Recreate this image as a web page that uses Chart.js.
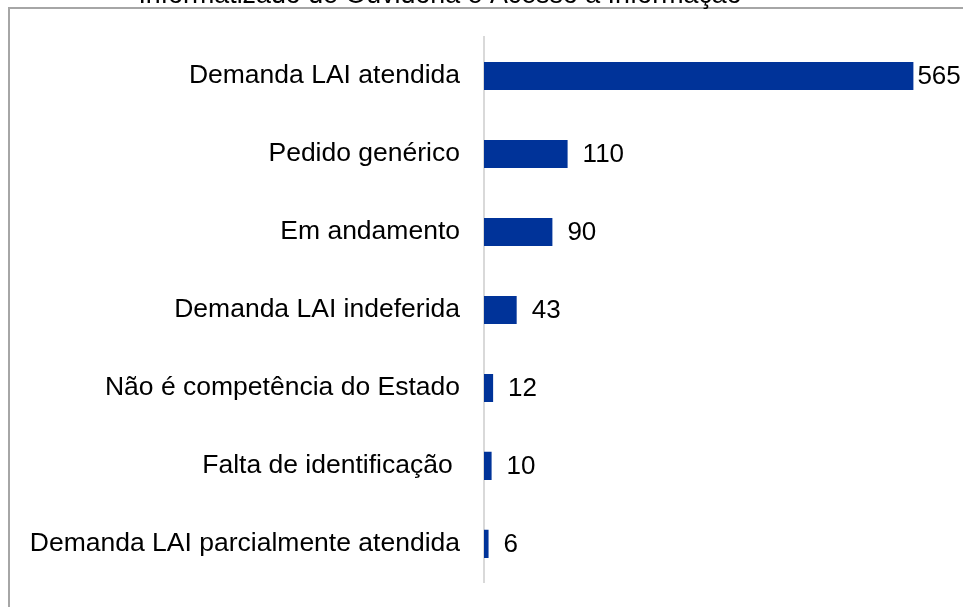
<!DOCTYPE html>
<html>
<head>
<meta charset="utf-8">
<script src="https://cdn.jsdelivr.net/npm/chart.js@4/dist/chart.umd.min.js"></script>
<style>
  html, body { margin: 0; padding: 0; background: #fff; }
  #wrap { width: 963px; height: 607px; position: relative; }
</style>
</head>
<body>
<div id="wrap"><canvas id="chart" width="963" height="607"></canvas></div>
<script>
const categories = [
    'Demanda LAI atendida',
    'Pedido genérico',
    'Em andamento',
    'Demanda LAI indeferida',
    'Não é competência do Estado',
    'Falta de identificação ',
    'Demanda LAI parcialmente atendida'
];
const values = [565, 110, 90, 43, 12, 10, 6];
const titleText = 'Informatizado de Ouvidoria e Acesso à Informação';

const FONT = 'Arial, "Liberation Sans"';

// frame + clipped title, like the original cropped screenshot
const framePlugin = {
    id: 'frame',
    afterDraw(chart) {
        const ctx = chart.ctx;
        ctx.save();
        ctx.strokeStyle = '#a6a6a6';
        ctx.lineWidth = 2;
        ctx.beginPath();
        ctx.moveTo(963, 8);
        ctx.lineTo(9, 8);
        ctx.lineTo(9, 607);
        ctx.stroke();
        ctx.fillStyle = '#000';
        ctx.font = '26.8px ' + FONT;
        ctx.textAlign = 'center';
        ctx.textBaseline = 'alphabetic';
        ctx.fillText(titleText, 440, 3);
        ctx.restore();
    }
};

// value labels at the end of each bar
const valueLabels = {
    id: 'valueLabels',
    afterDatasetsDraw(chart) {
        const ctx = chart.ctx;
        const meta = chart.getDatasetMeta(0);
        ctx.save();
        ctx.fillStyle = '#000';
        ctx.font = '26px ' + FONT;
        ctx.textBaseline = 'middle';
        ctx.textAlign = 'left';
        meta.data.forEach((bar, i) => {
            const txt = String(values[i]);
            const w = ctx.measureText(txt).width;
            let x = bar.x + 15;
            if (x + w > chart.width - 2) x = bar.x + 4;
            ctx.fillText(txt, x, bar.y + 1);
        });
        ctx.restore();
    }
};

new Chart(document.getElementById('chart'), {
    type: 'bar',
    data: {
        labels: categories,
        datasets: [{
            data: values,
            backgroundColor: '#003399',
            borderWidth: 0,
            barPercentage: 0.72,
            categoryPercentage: 0.5
        }]
    },
    options: {
        indexAxis: 'y',
        responsive: false,
        animation: false,
        layout: {
            padding: { top: 37, bottom: 20, left: 0, right: 23 }
        },
        plugins: {
            legend: { display: false },
            tooltip: { enabled: false },
            title: { display: false }
        },
        scales: {
            x: {
                display: false,
                min: 0,
                max: 600
            },
            y: {
                grid: { display: false, drawTicks: false },
                border: { display: true, color: '#d9d9d9', width: 2 },
                ticks: {
                    color: '#000',
                    padding: 24,
                    font: { family: FONT, size: 26.5, lineHeight: 0.01 }
                },
                afterFit(scale) {
                    scale.width = 484;
                }
            }
        }
    },
    plugins: [framePlugin, valueLabels]
});
</script>
</body>
</html>
